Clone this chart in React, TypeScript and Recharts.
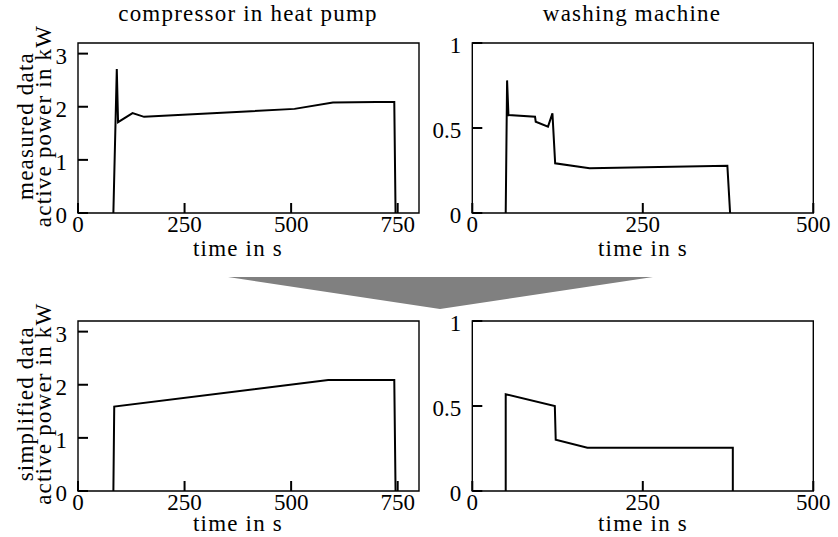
import { LineChart, Line, XAxis, YAxis, ReferenceArea } from "recharts";

// compressor in heat pump, measured
const compMeasTime = [83, 91, 94, 128, 155, 508, 598, 700, 742, 745];
const compMeasPower = [0, 2.71, 1.71, 1.88, 1.81, 1.96, 2.08, 2.09, 2.09, 0];

// washing machine, measured
const washMeasTime = [49, 51, 53, 92, 93, 111, 117.5, 121.5, 172, 374, 378];
const washMeasPower = [0, 0.78, 0.576, 0.566, 0.537, 0.508, 0.586, 0.292, 0.263, 0.278, 0];

// compressor in heat pump, simplified
const compSimpTime = [83, 85, 587, 742, 745];
const compSimpPower = [0, 1.59, 2.09, 2.09, 0];

// washing machine, simplified
const washSimpTime = [49, 49, 121, 122.3, 168.7, 382, 382];
const washSimpPower = [0, 0.569, 0.5, 0.302, 0.255, 0.255, 0];

const compXTicks = [0, 250, 500, 750];
const washXTicks = [0, 250, 500];
const compYTicks = [0, 1, 2, 3];
const washYTicks = [0, 0.5, 1];

const FONT = "Liberation Serif";
const FS = 23;

const rows = (t: number[], p: number[]) => t.map((v, i) => ({ t: v, p: p[i] }));

const XTick = (props: any) => {
  const { x, y, payload } = props;
  return (
    <g>
      <line x1={x} x2={x} y1={y} y2={y - 10} stroke="#000" strokeWidth={2} />
      <text
        x={x}
        y={y + 19}
        textAnchor="middle"
        fontFamily={FONT}
        fontSize={FS}
        style={{ fontFamily: FONT }}
        fill="#000"
      >
        {payload.value}
      </text>
    </g>
  );
};

const YTick = (props: any) => {
  const { x, y, payload } = props;
  return (
    <g>
      <line x1={x} x2={x + 10} y1={y} y2={y} stroke="#000" strokeWidth={2} />
      <text
        x={x - 11}
        y={y + 10}
        textAnchor="end"
        fontFamily={FONT}
        fontSize={FS}
        style={{ fontFamily: FONT }}
        fill="#000"
      >
        {payload.value}
      </text>
    </g>
  );
};

function Panel({
  data,
  left,
  top,
  width,
  yAxisWidth,
  xMax,
  xTicks,
  yMax,
  yTicks,
}: {
  data: { t: number; p: number }[];
  left: number;
  top: number;
  width: number;
  yAxisWidth: number;
  xMax: number;
  xTicks: number[];
  yMax: number;
  yTicks: number[];
}) {
  return (
    <div style={{ position: "absolute", left, top }}>
      <LineChart
        width={width}
        height={270}
        data={data}
        margin={{ top: 43, right: width - yAxisWidth - 341, left: 0, bottom: 0 }}
        style={{ fontFamily: FONT }}
      >
        <ReferenceArea
          x1={0}
          x2={xMax}
          y1={0}
          y2={yMax}
          fill="none"
          stroke="#000"
          strokeWidth={1.4}
        />
        <XAxis
          type="number"
          dataKey="t"
          domain={[0, xMax]}
          ticks={xTicks}
          height={57}
          tickSize={0}
          tickMargin={0}
          axisLine={false}
          tickLine={false}
          tick={XTick}
          interval={0}
        />
        <YAxis
          type="number"
          domain={[0, yMax]}
          ticks={yTicks}
          width={yAxisWidth}
          tickSize={0}
          tickMargin={0}
          axisLine={false}
          tickLine={false}
          tick={YTick}
          interval={0}
        />
        <Line
          type="linear"
          dataKey="p"
          stroke="#000"
          strokeWidth={2}
          dot={false}
          isAnimationActive={false}
        />
      </LineChart>
    </div>
  );
}

const Label = ({ x, y, rotate, children }: { x: number; y: number; rotate?: boolean; children: string }) => (
  <text
    x={rotate ? 0 : x}
    y={rotate ? 0 : y}
    transform={rotate ? `translate(${x},${y}) rotate(-90)` : undefined}
    textAnchor="middle"
    fontFamily={FONT}
    fontSize={FS}
    fill="#000"
    style={{ fontFamily: FONT, letterSpacing: "1.2px" }}
  >
    {children}
  </text>
);

export default function App() {
  const dy = 277.7;
  return (
    <div
      style={{
        position: "absolute",
        left: 0,
        top: 0,
        width: 838,
        height: 537,
        background: "#fff",
        fontFamily: FONT,
      }}
    >
      <Panel data={rows(compMeasTime, compMeasPower)} left={0} top={0} width={430} yAxisWidth={78}
        xMax={800} xTicks={compXTicks} yMax={3.2} yTicks={compYTicks} />
      <Panel data={rows(washMeasTime, washMeasPower)} left={420} top={0} width={418} yAxisWidth={52.3}
        xMax={500} xTicks={washXTicks} yMax={1} yTicks={washYTicks} />
      <Panel data={rows(compSimpTime, compSimpPower)} left={0} top={dy} width={430} yAxisWidth={78}
        xMax={800} xTicks={compXTicks} yMax={3.2} yTicks={compYTicks} />
      <Panel data={rows(washSimpTime, washSimpPower)} left={420} top={dy} width={418} yAxisWidth={52.3}
        xMax={500} xTicks={washXTicks} yMax={1} yTicks={washYTicks} />

      <svg
        width={838}
        height={537}
        style={{ position: "absolute", left: 0, top: 0, pointerEvents: "none", fontFamily: FONT }}
      >
        <Label x={248} y={21}>compressor in heat pump</Label>
        <Label x={632} y={21}>washing machine</Label>

        <Label x={238} y={256}>time in s</Label>
        <Label x={643} y={256}>time in s</Label>
        <Label x={238} y={531}>time in s</Label>
        <Label x={643} y={531}>time in s</Label>

        <Label x={33} y={126} rotate>measured data</Label>
        <Label x={51} y={126} rotate>active power in kW</Label>
        <Label x={33} y={126 + dy} rotate>simplified data</Label>
        <Label x={51} y={126 + dy} rotate>active power in kW</Label>

        <polygon points="228,277 653,277 440,309" fill="#808080" />
      </svg>
    </div>
  );
}
